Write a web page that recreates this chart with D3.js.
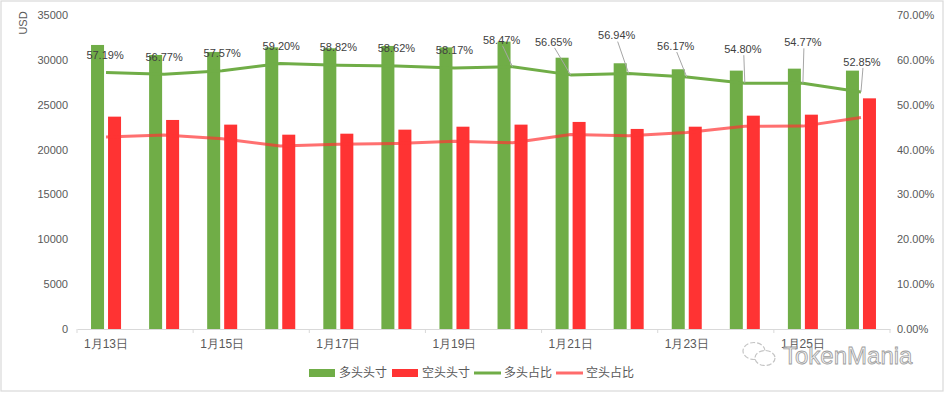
<!DOCTYPE html>
<html><head><meta charset="utf-8">
<script src="https://cdn.jsdelivr.net/npm/d3@7/dist/d3.min.js"></script>
<style>
html,body{margin:0;padding:0;background:#fff;}
svg{display:block;font-family:"Noto Sans CJK SC","Liberation Sans",sans-serif;}
</style></head>
<body><svg id="chart" width="945" height="393"></svg>
<script>
// ---- data ----
const categories = ["1月13日","1月14日","1月15日","1月16日","1月17日","1月18日","1月19日","1月20日","1月21日","1月22日","1月23日","1月24日","1月25日","1月26日"];
const longPos  = [31660, 30545, 30880, 31400, 31290, 31550, 31390, 32030, 30240, 29620, 28950, 28800, 29020, 28800];
const shortPos = [23670, 23300, 22780, 21660, 21770, 22220, 22550, 22780, 23080, 22300, 22550, 23780, 23890, 25710];
const longPct  = [57.19, 56.77, 57.57, 59.20, 58.82, 58.62, 58.17, 58.47, 56.65, 56.94, 56.17, 54.80, 54.77, 52.85];
const shortPct = [42.81, 43.23, 42.43, 40.80, 41.18, 41.38, 41.83, 41.53, 43.35, 43.06, 43.83, 45.20, 45.23, 47.15];
const leftTicks  = [0, 5000, 10000, 15000, 20000, 25000, 30000, 35000];
const rightTicks = [0, 10, 20, 30, 40, 50, 60, 70];
const seriesNames = ["多头头寸","空头头寸","多头占比","空头占比"];

// ---- layout (label placement tweaks, px) ----
const labelShift = [[-1,-17],[0,-17],[0,-18],[1,-17],[0,-18],[0,-18],[0,-18],[-11,-27],[-17,-33],[-12,-38],[-11,-31],[-2,-34],[0,-41],[1,-30]];
const leaderFrom = 7;

const svg = d3.select("#chart");
const W = 945, H = 393;
const plot = {left: 77, right: 890, top: 15, bottom: 329};
const cGreen = "#70AD47", cRed = "#FF3333", cText = "#595959";

// frame
svg.append("rect").attr("x",1).attr("y",1).attr("width",W-3).attr("height",H-3)
  .attr("fill","#fff").attr("stroke","#d9d9d9").attr("stroke-width",1.2);

const x0 = d3.scaleBand().domain(categories).range([plot.left, plot.right]).padding(0);
const bw = x0.bandwidth();
const x1 = d3.scaleBand().domain(["long","short"]).range([bw*0.2416, bw*0.7584]).paddingInner(0.235).paddingOuter(0);
const yL = d3.scaleLinear().domain([0,35000]).range([plot.bottom, plot.top]);
const yR = d3.scaleLinear().domain([0,70]).range([plot.bottom, plot.top]);
const cx = c => x0(c) + bw/2;

// left axis
const gL = svg.append("g").attr("transform",`translate(${plot.left},0)`)
  .call(d3.axisLeft(yL).tickValues(leftTicks).tickFormat(d3.format("d")).tickSize(0).tickPadding(9));
gL.select(".domain").remove();
gL.selectAll("text").attr("fill",cText).style("font-size","11px").style("font-family","'Liberation Sans',sans-serif");

// right axis
const gR = svg.append("g").attr("transform",`translate(${plot.right},0)`)
  .call(d3.axisRight(yR).tickValues(rightTicks).tickFormat(d => d.toFixed(2)+"%").tickSize(0).tickPadding(7));
gR.select(".domain").remove();
gR.selectAll("text").attr("fill",cText).style("font-size","11px").style("font-family","'Liberation Sans',sans-serif");

// USD title
svg.append("text").attr("transform","translate(27,23) rotate(-90)")
  .attr("text-anchor","middle").attr("fill",cText)
  .style("font-size","11px").style("font-family","'Liberation Sans',sans-serif").text("USD");

// bottom axis
const evenCats = categories.filter((d,i)=> i%2===0);
const gB = svg.append("g").attr("transform",`translate(0,${plot.bottom})`)
  .call(d3.axisBottom(x0).tickValues(evenCats).tickSize(0).tickPadding(10));
gB.select(".domain").attr("stroke","#d9d9d9");
gB.selectAll("text").attr("fill",cText).style("font-size","12px");
// tick marks at group boundaries
const tickPos = evenCats.map(c => x0(c)).concat([plot.right]);
svg.append("g").selectAll("line").data(tickPos).join("line")
  .attr("x1",d=>d).attr("x2",d=>d).attr("y1",plot.bottom).attr("y2",plot.bottom+4)
  .attr("stroke","#d9d9d9");

// bars
const gBars = svg.append("g");
gBars.selectAll("rect.long").data(categories).join("rect").attr("class","long")
  .attr("x",c=>x0(c)+x1("long")).attr("width",x1.bandwidth())
  .attr("y",(c,i)=>yL(longPos[i])).attr("height",(c,i)=>yL(0)-yL(longPos[i]))
  .attr("fill",cGreen);
gBars.selectAll("rect.short").data(categories).join("rect").attr("class","short")
  .attr("x",c=>x0(c)+x1("short")).attr("width",x1.bandwidth())
  .attr("y",(c,i)=>yL(shortPos[i])).attr("height",(c,i)=>yL(0)-yL(shortPos[i]))
  .attr("fill",cRed);

// lines
const line = d3.line().x(d=>d[0]).y(d=>d[1]);
const longPts = categories.map((c,i)=>[cx(c), yR(longPct[i])]);
const shortPts = categories.map((c,i)=>[cx(c), yR(shortPct[i])]);
svg.append("path").attr("d",line(shortPts)).attr("fill","none")
  .attr("stroke",cRed).attr("stroke-opacity",0.7).attr("stroke-width",3).attr("stroke-linejoin","round");
svg.append("path").attr("d",line(longPts)).attr("fill","none")
  .attr("stroke",cGreen).attr("stroke-width",3).attr("stroke-linejoin","round");

// data labels with leader lines
const gLab = svg.append("g");
categories.forEach((c,i)=>{
  const [px,py] = longPts[i];
  const lx = px + labelShift[i][0], ly = py + labelShift[i][1];
  if (i >= leaderFrom) {
    gLab.append("line").attr("x1",lx+1).attr("y1",ly+6).attr("x2",px).attr("y2",py)
      .attr("stroke","#a6a6a6").attr("stroke-width",1);
  }
  gLab.append("text").attr("x",lx).attr("y",ly).attr("dy","0.35em")
    .attr("text-anchor","middle").attr("fill","#404040")
    .style("font-size","11px").style("font-family","'Liberation Sans',sans-serif")
    .text(longPct[i].toFixed(2)+"%");
});

// legend
const legend = svg.append("g").attr("transform","translate(0,373)");
const legItems = [
  {name:seriesNames[0], type:"rect", color:cGreen, x:309},
  {name:seriesNames[1], type:"rect", color:cRed, x:392},
  {name:seriesNames[2], type:"line", color:cGreen, x:474},
  {name:seriesNames[3], type:"line", color:"#FF6B6B", x:556}
];
legItems.forEach(it=>{
  if (it.type==="rect") {
    legend.append("rect").attr("x",it.x).attr("y",-4).attr("width",26).attr("height",8).attr("fill",it.color);
  } else {
    legend.append("line").attr("x1",it.x).attr("x2",it.x+27).attr("y1",0).attr("y2",0)
      .attr("stroke",it.color).attr("stroke-width",3);
  }
  legend.append("text").attr("x",it.x+30).attr("y",0).attr("dy","0.35em")
    .attr("fill",cText).style("font-size","12px").text(it.name);
});

// watermark
const wm = svg.append("g").attr("opacity",0.85);
wm.append("ellipse").attr("cx",754).attr("cy",351).attr("rx",11).attr("ry",8.5)
  .attr("fill","none").attr("stroke","#bbb").attr("stroke-width",1.2).attr("stroke-dasharray","5 2");
wm.append("ellipse").attr("cx",765).attr("cy",358).attr("rx",10).attr("ry",7.5)
  .attr("fill","#fff").attr("stroke","#bbb").attr("stroke-width",1.2).attr("stroke-dasharray","5 2");
wm.append("text").attr("x",783).attr("y",364)
  .style("font-family","'Liberation Sans',sans-serif").style("font-size","24px")
  .attr("fill","#f2f2f2").attr("stroke","#8c8c8c").attr("stroke-width",0.8)
  .text("TokenMania");
</script>
</body></html>
